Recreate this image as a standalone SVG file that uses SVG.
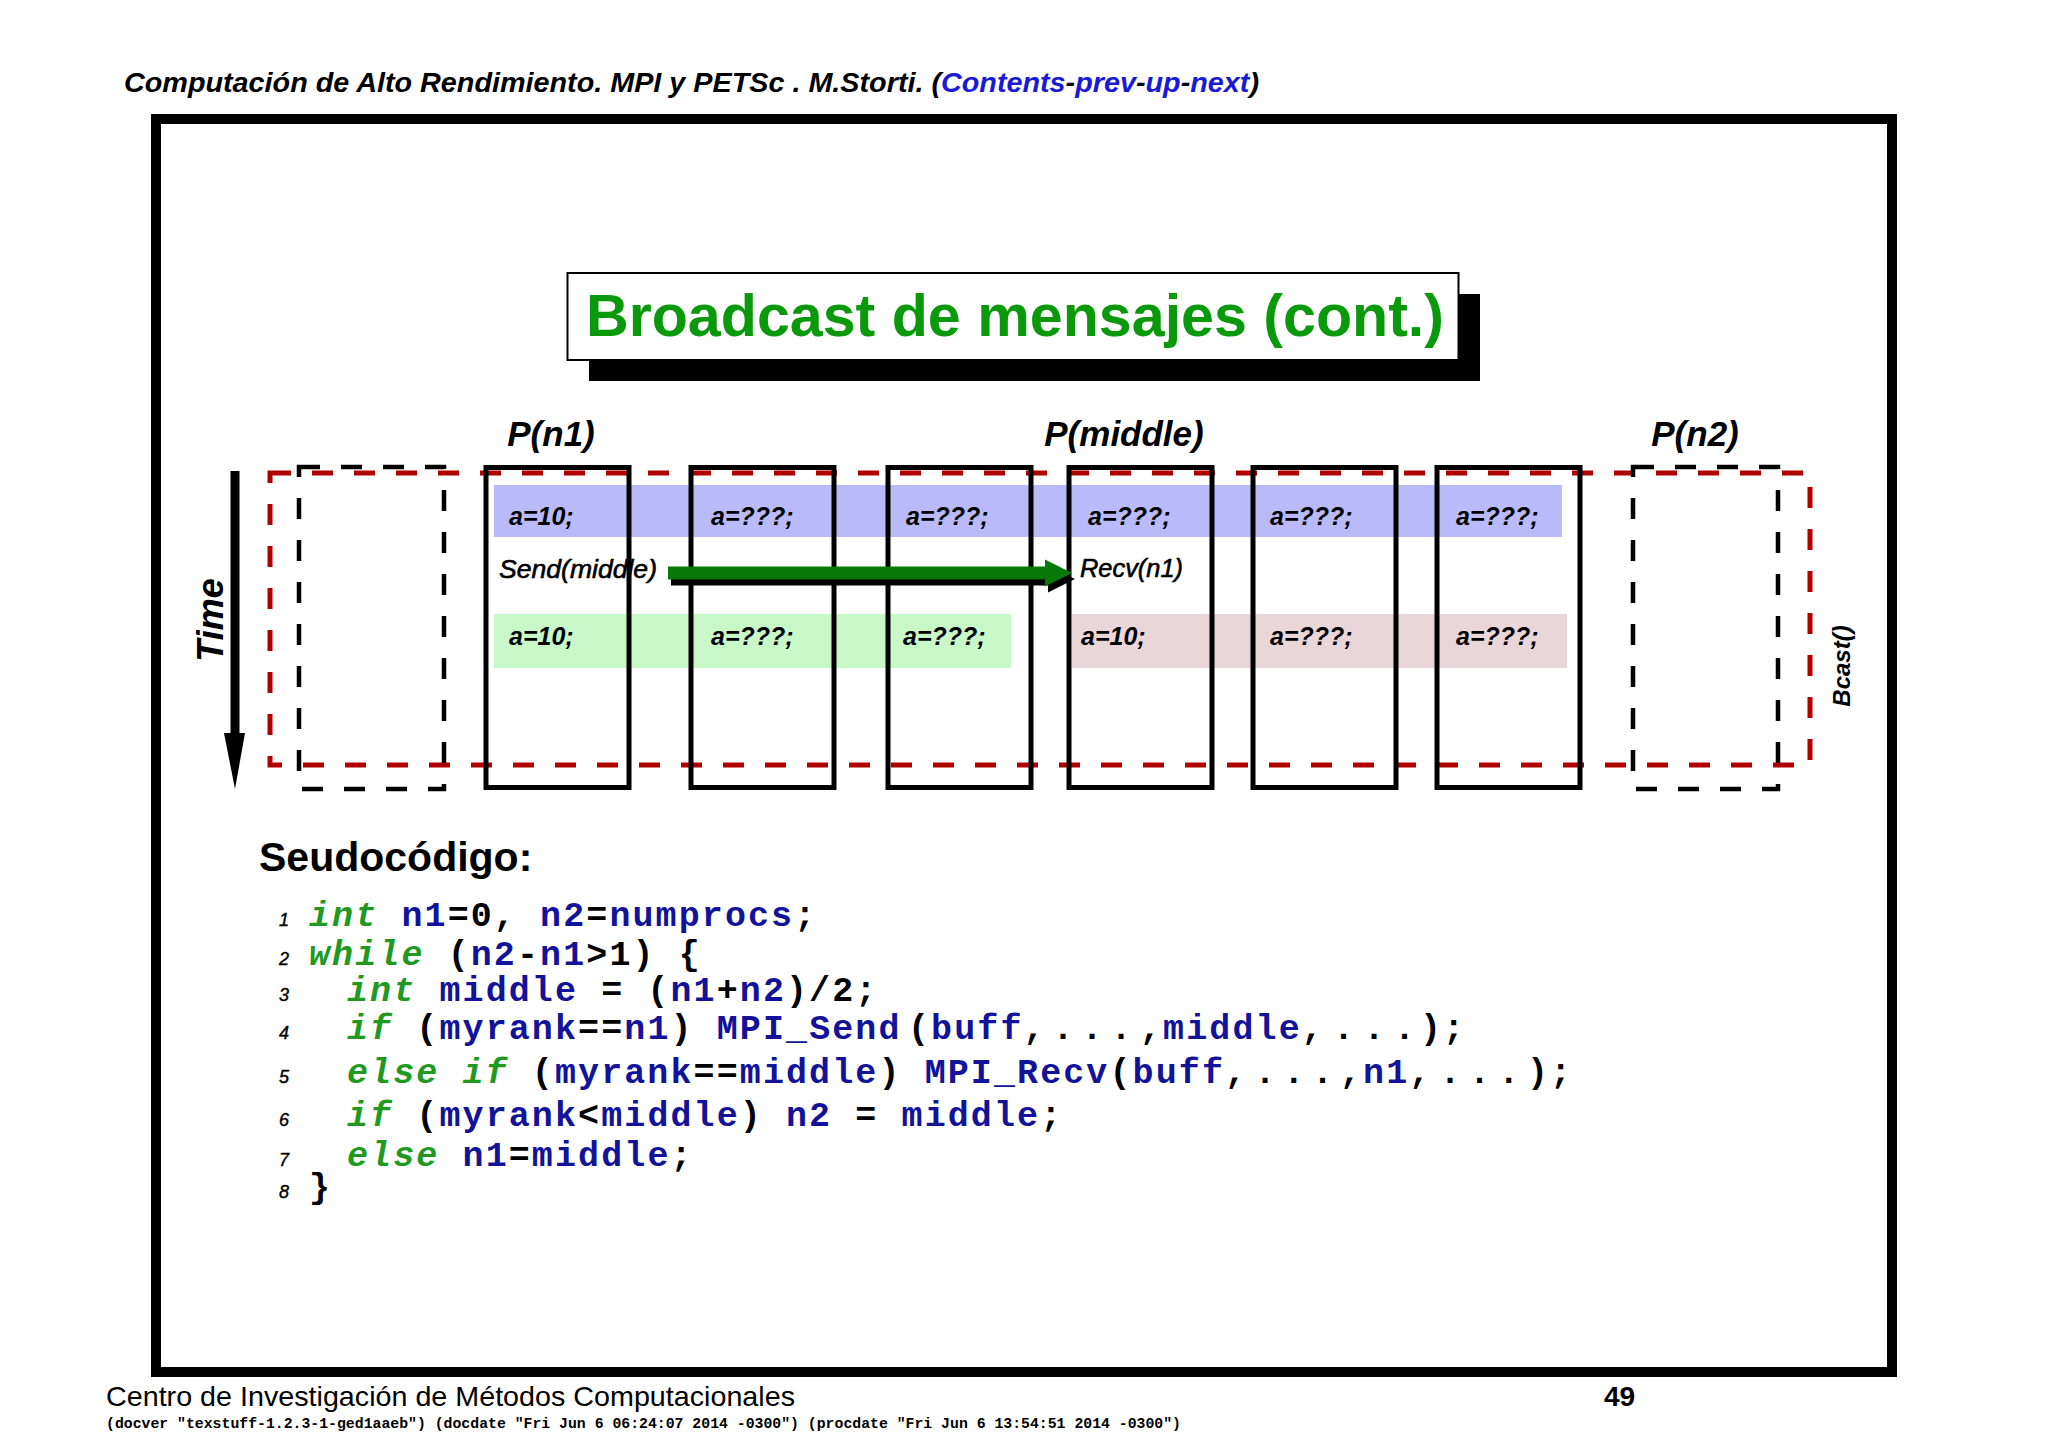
<svg xmlns="http://www.w3.org/2000/svg" width="2048" height="1448" viewBox="0 0 2048 1448">
<style>
.sans{font-family:"Liberation Sans",Arial,sans-serif}
.bi{font-family:"Liberation Sans",Arial,sans-serif;font-weight:bold;font-style:italic}
.it{font-family:"Liberation Sans",Arial,sans-serif;font-style:italic;stroke:#000;stroke-width:0.6}
.proc{fill:none;stroke:#000;stroke-width:5}
.bdash{fill:none;stroke:#000;stroke-width:4.5;stroke-dasharray:21 21}
.rdash{fill:none;stroke:#b00000;stroke-width:5;stroke-dasharray:21 21}
.val{font-family:"Liberation Sans",Arial,sans-serif;font-weight:bold;font-style:italic;font-size:25px;fill:#000}
.plabel{font-family:"Liberation Sans",Arial,sans-serif;font-weight:bold;font-style:italic;font-size:35px;text-anchor:middle}
.code{font-family:"Liberation Mono","Courier New",monospace;font-weight:bold;font-size:35px;letter-spacing:2.1px;fill:#000}
.kw{fill:#1f991f;font-style:italic}
.id{fill:#12129a}
.ln{font-family:"Liberation Sans",Arial,sans-serif;font-style:italic;font-size:18px;fill:#000;stroke:#000;stroke-width:0.4}
.link{fill:#1a1ad6}
</style>
<rect width="2048" height="1448" fill="#fff"/>

<g id="header">
<text class="bi" x="124" y="92" font-size="28" textLength="1135" lengthAdjust="spacingAndGlyphs">Computación de Alto Rendimiento. MPI y PETSc . M.Storti. (<tspan class="link">Contents</tspan>-<tspan class="link">prev</tspan>-<tspan class="link">up</tspan>-<tspan class="link">next</tspan>)</text>
</g>

<g id="frame">
<rect x="156" y="119" width="1736" height="1253" fill="none" stroke="#000" stroke-width="10"/>
</g>

<g id="title">
<rect x="589" y="294" width="891" height="87" fill="#000"/>
<rect x="567.5" y="273" width="891" height="87" fill="#fff" stroke="#000" stroke-width="2"/>
<text class="sans" x="586" y="336" font-size="59" font-weight="bold" fill="#0a990a" textLength="858" lengthAdjust="spacingAndGlyphs">Broadcast de mensajes (cont.)</text>
</g>

<g id="bands">
<rect x="494" y="485" width="1068" height="52" fill="#babaf8"/>
<rect x="494" y="614" width="517" height="54" fill="#c8f8c8"/>
<rect x="1072" y="614" width="495" height="54" fill="#e8d6d9"/>
</g>

<g id="bcast-region">
<rect class="rdash" x="270" y="473" width="1540" height="292"/>
</g>

<g id="proc-left-dashed"><rect class="bdash" x="299" y="467" width="145" height="322"/></g>
<g id="proc-right-dashed"><rect class="bdash" x="1633" y="467" width="145" height="322"/></g>
<g id="proc-1"><rect class="proc" x="486" y="467.5" width="143" height="320"/></g>
<g id="proc-2"><rect class="proc" x="691" y="467.5" width="143" height="320"/></g>
<g id="proc-3"><rect class="proc" x="888" y="467.5" width="143" height="320"/></g>
<g id="proc-4"><rect class="proc" x="1069" y="467.5" width="143" height="320"/></g>
<g id="proc-5"><rect class="proc" x="1253" y="467.5" width="143" height="320"/></g>
<g id="proc-6"><rect class="proc" x="1437" y="467.5" width="143" height="320"/></g>

<g id="labels">
<text class="plabel" x="551" y="446">P(n1)</text>
<text class="plabel" x="1124" y="446">P(middle)</text>
<text class="plabel" x="1695" y="446">P(n2)</text>
<text class="bi" font-size="36" text-anchor="middle" transform="translate(223,620) rotate(-90)">Time</text>
<text class="bi" font-size="24" text-anchor="middle" transform="translate(1850,666) rotate(-90)">Bcast()</text>
</g>

<g id="values">
<text class="val" x="509" y="525">a=10;</text>
<text class="val" x="711" y="525">a=???;</text>
<text class="val" x="906" y="525">a=???;</text>
<text class="val" x="1088" y="525">a=???;</text>
<text class="val" x="1270" y="525">a=???;</text>
<text class="val" x="1456" y="525">a=???;</text>
<text class="val" x="509" y="645">a=10;</text>
<text class="val" x="711" y="645">a=???;</text>
<text class="val" x="903" y="645">a=???;</text>
<text class="val" x="1081" y="645">a=10;</text>
<text class="val" x="1270" y="645">a=???;</text>
<text class="val" x="1456" y="645">a=???;</text>
<text class="it" x="499" y="578" font-size="26" textLength="158" lengthAdjust="spacingAndGlyphs">Send(middle)</text>
<text class="it" x="1080" y="577" font-size="26" textLength="103" lengthAdjust="spacingAndGlyphs">Recv(n1)</text>
</g>

<g id="connectors">
<line x1="235" y1="471" x2="235" y2="736" stroke="#000" stroke-width="9"/>
<polygon points="224,733 245,733 235,789" fill="#000"/>
<polygon points="671,572.5 1048,572.5 1048,565.5 1075,579 1048,592.5 1048,585.5 671,585.5" fill="#000"/>
<polygon points="668,566.5 1045,566.5 1045,559.5 1072,573 1045,586.5 1045,579.5 668,579.5" fill="#087808"/>
</g>

<g id="pseudocode">
<text class="sans" x="259" y="871" font-size="41" font-weight="bold">Seudocódigo:</text>
<text class="ln" x="279" y="926">1</text>
<text class="ln" x="279" y="965">2</text>
<text class="ln" x="279" y="1001">3</text>
<text class="ln" x="279" y="1039">4</text>
<text class="ln" x="279" y="1083">5</text>
<text class="ln" x="279" y="1126">6</text>
<text class="ln" x="279" y="1166">7</text>
<text class="ln" x="279" y="1198">8</text>
<text class="code" x="309" y="926" xml:space="preserve"><tspan class="kw">int</tspan> <tspan class="id">n1</tspan>=0, <tspan class="id">n2</tspan>=<tspan class="id">numprocs</tspan>;</text>
<text class="code" x="309" y="965" xml:space="preserve"><tspan class="kw">while</tspan> (<tspan class="id">n2</tspan>-<tspan class="id">n1</tspan>&gt;1) {</text>
<text class="code" x="347" y="1001" xml:space="preserve"><tspan class="kw">int</tspan> <tspan class="id">middle</tspan> = (<tspan class="id">n1</tspan>+<tspan class="id">n2</tspan>)/2;</text>
<text class="code" y="1039" xml:space="preserve"><tspan x="347" class="kw">if</tspan> (<tspan class="id">myrank</tspan>==<tspan class="id">n1</tspan>) <tspan class="id">MPI_Send</tspan><tspan x="908">(</tspan><tspan class="id">buff</tspan>,<tspan x="1052.5" style="letter-spacing:8px">...</tspan><tspan x="1140">,</tspan><tspan class="id">middle</tspan>,<tspan x="1333" style="letter-spacing:9.5px">...</tspan><tspan x="1420">);</tspan></text>
<text class="code" y="1083" xml:space="preserve"><tspan x="347" class="kw">else if</tspan> (<tspan class="id">myrank</tspan>==<tspan class="id">middle</tspan>) <tspan class="id">MPI_Recv</tspan>(<tspan class="id">buff</tspan>,<tspan x="1254.5" style="letter-spacing:7.7px">...</tspan><tspan x="1340">,</tspan><tspan class="id">n1</tspan>,<tspan x="1439.5" style="letter-spacing:8.4px">...</tspan><tspan x="1527">);</tspan></text>
<text class="code" x="347" y="1126" xml:space="preserve"><tspan class="kw">if</tspan> (<tspan class="id">myrank</tspan>&lt;<tspan class="id">middle</tspan>) <tspan class="id">n2</tspan> = <tspan class="id">middle</tspan>;</text>
<text class="code" x="347" y="1166" xml:space="preserve"><tspan class="kw">else</tspan> <tspan class="id">n1</tspan>=<tspan class="id">middle</tspan>;</text>
<text class="code" x="309" y="1198">}</text>
</g>

<g id="footer">
<text class="sans" x="106" y="1406" font-size="28" textLength="689" lengthAdjust="spacingAndGlyphs">Centro de Investigación de Métodos Computacionales</text>
<text class="sans" x="1604" y="1406" font-size="28" font-weight="bold">49</text>
<text x="106" y="1428" font-family="'Liberation Mono','Courier New',monospace" font-weight="bold" font-size="15" textLength="1075" lengthAdjust="spacingAndGlyphs">(docver "texstuff-1.2.3-1-ged1aaeb") (docdate "Fri Jun 6 06:24:07 2014 -0300") (procdate "Fri Jun 6 13:54:51 2014 -0300")</text>
</g>
</svg>
